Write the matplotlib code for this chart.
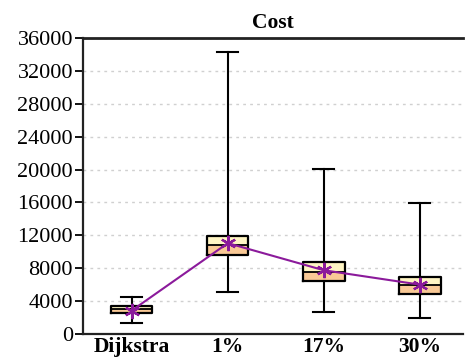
import numpy as np
import matplotlib
matplotlib.use("Agg")
from matplotlib import pyplot as plt

labels = ["Dijkstra", "1%", "17%", "30%"]
whislo = [1350, 5050, 2650, 1950]
q1 = [2550, 9600, 6450, 4900]
med = [3000, 10800, 7600, 5950]
q3 = [3450, 11950, 8700, 6950]
whishi = [4500, 34300, 20100, 15900]
means = [2850, 11050, 7750, 6000]

yticks = list(range(0, 36001, 4000))

plt.rcParams['font.family'] = ['Liberation Serif', 'DejaVu Serif']

fig = plt.figure(figsize=(4.65, 3.63), dpi=100)
ax = fig.add_axes([0.178, 0.08, 0.818, 0.815])

pos = np.arange(len(labels))
w = 0.43

# two-tone box fills
ax.bar(pos, np.array(med) - np.array(q1), bottom=q1, width=w,
       color="#f9c996", zorder=2)
ax.bar(pos, np.array(q3) - np.array(med), bottom=med, width=w,
       color="#fff5c4", zorder=2)

stats = []
for i in range(len(labels)):
    stats.append(dict(whislo=whislo[i], q1=q1[i], med=med[i], q3=q3[i],
                      whishi=whishi[i], fliers=[], label=labels[i]))
ax.bxp(stats, positions=pos, widths=w, showfliers=False,
       boxprops=dict(color="black", linewidth=1.6, zorder=3),
       medianprops=dict(color="black", linewidth=1.3, zorder=3),
       whiskerprops=dict(color="black", linewidth=1.5, zorder=3),
       capprops=dict(color="black", linewidth=1.5, zorder=3),
       capwidths=0.22)

ax.plot(pos, means, color="#8b1a9b", linewidth=1.5, marker=(6, 2, 0),
        markersize=11, markeredgewidth=1.6, zorder=4)

ax.set_xlim(-0.51, 3.45)
ax.set_ylim(0, 36000)
ax.set_yticks(yticks)
ax.set_yticklabels([str(v) for v in yticks], fontsize=16)
ax.set_xticks(pos)
ax.set_xticklabels(labels, fontsize=15.5, fontweight="bold")
ax.tick_params(axis="x", length=0, pad=2)
ax.tick_params(axis="y", length=6, width=1.3, pad=1)

ax.yaxis.grid(True, linestyle=(0, (2, 3)), color="#d0d0d0", linewidth=1)
ax.set_axisbelow(True)

ax.spines["right"].set_visible(False)
for s in ["left", "bottom"]:
    ax.spines[s].set_linewidth(1.6)
    ax.spines[s].set_color("#222222")
ax.spines["top"].set_linewidth(2.0)
ax.spines["top"].set_color("#222222")

ax.set_title("Cost", fontsize=15.5, fontweight="bold", pad=7)

fig.savefig("out.png", dpi=100)
